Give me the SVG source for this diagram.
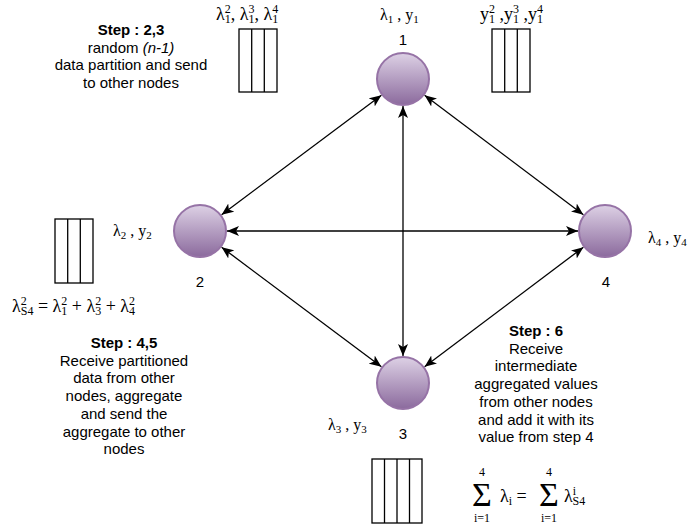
<svg xmlns="http://www.w3.org/2000/svg" width="692" height="529" viewBox="0 0 692 529">
<style>
.lbl{font-family:"Liberation Sans",Arial,sans-serif;font-size:15px;fill:#000;text-anchor:middle}
.b{font-weight:bold}
.m{font-family:"Liberation Serif","Times New Roman",serif;font-size:16px;fill:#000}
.m2{font-family:"Liberation Serif","Times New Roman",serif;font-size:18px;fill:#000}
.s{font-size:11px}
.s2{font-size:12px}
.sig{font-family:"Liberation Serif","Times New Roman",serif;font-size:34px;fill:#000;text-anchor:middle}
.lim{font-family:"Liberation Serif","Times New Roman",serif;font-size:12px;fill:#000;text-anchor:middle}
.node{fill:url(#g);stroke:#9673a6;stroke-width:2}
.conn{stroke:#000;stroke-width:1.3;fill:none;marker-start:url(#ah);marker-end:url(#ah)}
.box{fill:#fff;stroke:#000;stroke-width:1.3}
.col{stroke:#000;stroke-width:1.3}
</style>
<defs>
<linearGradient id="g" x1="0" y1="0" x2="0" y2="1">
<stop offset="0" stop-color="#ddd1e5"/>
<stop offset="1" stop-color="#8b6a9d"/>
</linearGradient>
<marker id="ah" markerUnits="userSpaceOnUse" markerWidth="12" markerHeight="10" viewBox="0 0 12 10" refX="12" refY="5" orient="auto-start-reverse">
<path d="M0,0 L12,5 L0,10 L3,5 z" fill="#000"/>
</marker>
</defs>
<rect width="692" height="529" fill="#fff"/>
<g id="connectors">
<line class="conn" x1="381.4" y1="95.2" x2="221.6" y2="214.8"/>
<line class="conn" x1="424.6" y1="95.2" x2="583.4" y2="214.8"/>
<line class="conn" x1="403" y1="106" x2="403" y2="356"/>
<line class="conn" x1="227" y1="231" x2="578" y2="231"/>
<line class="conn" x1="221.6" y1="247.2" x2="381.4" y2="366.8"/>
<line class="conn" x1="583.4" y1="247.2" x2="424.6" y2="366.8"/>
</g>
<g id="node1">
<circle class="node" cx="403" cy="79" r="26"/>
<text class="lbl" x="403" y="45">1</text>
<text class="m" x="380" y="20">λ<tspan class="s" dy="3">1</tspan><tspan dy="-3"> , y</tspan><tspan class="s" dy="3">1</tspan></text>
</g>
<g id="node2">
<circle class="node" cx="200" cy="231" r="26"/>
<text class="lbl" x="200" y="287">2</text>
<text class="m" x="113" y="236">λ<tspan class="s" dy="3">2</tspan><tspan dy="-3"> , y</tspan><tspan class="s" dy="3">2</tspan></text>
</g>
<g id="node3">
<circle class="node" cx="403" cy="383" r="26"/>
<text class="lbl" x="403" y="439">3</text>
<text class="m" x="328" y="430">λ<tspan class="s" dy="3">3</tspan><tspan dy="-3"> , y</tspan><tspan class="s" dy="3">3</tspan></text>
</g>
<g id="node4">
<circle class="node" cx="605" cy="231" r="26"/>
<text class="lbl" x="606" y="287">4</text>
<text class="m" x="648" y="243">λ<tspan class="s" dy="3">4</tspan><tspan dy="-3"> , y</tspan><tspan class="s" dy="3">4</tspan></text>
</g>
<g id="partition-lambda">
<rect class="box" x="239" y="29" width="38" height="63"/>
<line class="col" x1="251.7" y1="29" x2="251.7" y2="92"/>
<line class="col" x1="264.3" y1="29" x2="264.3" y2="92"/>
<text class="m2" x="216" y="20">λ<tspan class="s2" dy="-7">2</tspan><tspan class="s2" dx="-6" dy="10">1</tspan><tspan dy="-3">, λ</tspan><tspan class="s2" dy="-7">3</tspan><tspan class="s2" dx="-6" dy="10">1</tspan><tspan dy="-3">, λ</tspan><tspan class="s2" dy="-7">4</tspan><tspan class="s2" dx="-6" dy="10">1</tspan></text>
</g>
<g id="partition-y">
<rect class="box" x="492" y="29" width="38" height="63"/>
<line class="col" x1="504.7" y1="29" x2="504.7" y2="92"/>
<line class="col" x1="517.3" y1="29" x2="517.3" y2="92"/>
<text class="m2" x="480" y="20">y<tspan class="s2" dy="-7">2</tspan><tspan class="s2" dx="-6" dy="10">1</tspan><tspan dy="-3"> ,y</tspan><tspan class="s2" dy="-7">3</tspan><tspan class="s2" dx="-6" dy="10">1</tspan><tspan dy="-3"> ,y</tspan><tspan class="s2" dy="-7">4</tspan><tspan class="s2" dx="-6" dy="10">1</tspan></text>
</g>
<g id="partition-node2">
<rect class="box" x="55" y="219" width="38" height="64"/>
<line class="col" x1="67.7" y1="219" x2="67.7" y2="283"/>
<line class="col" x1="80.3" y1="219" x2="80.3" y2="283"/>
<text class="m2" x="12" y="312">λ<tspan class="s2" dy="-7">2</tspan><tspan class="s2" dx="-6" dy="10">S4</tspan><tspan dy="-3"> = λ</tspan><tspan class="s2" dy="-7">2</tspan><tspan class="s2" dx="-6" dy="10">1</tspan><tspan dy="-3"> + λ</tspan><tspan class="s2" dy="-7">2</tspan><tspan class="s2" dx="-6" dy="10">3</tspan><tspan dy="-3"> + λ</tspan><tspan class="s2" dy="-7">2</tspan><tspan class="s2" dx="-6" dy="10">4</tspan></text>
</g>
<g id="partition-node3">
<rect class="box" x="372" y="459" width="50" height="64"/>
<line class="col" x1="384.5" y1="459" x2="384.5" y2="523"/>
<line class="col" x1="397" y1="459" x2="397" y2="523"/>
<line class="col" x1="409.5" y1="459" x2="409.5" y2="523"/>
</g>
<g id="sum-formula">
<text class="sig" x="482" y="506">Σ</text>
<text class="lim" x="482" y="476">4</text>
<text class="lim" x="482" y="522">i=1</text>
<text class="m2" x="500" y="502">λ<tspan class="s2" dy="3">i</tspan><tspan dy="-3"> = </tspan></text>
<text class="sig" x="549" y="506">Σ</text>
<text class="lim" x="549" y="476">4</text>
<text class="lim" x="549" y="522">i=1</text>
<text class="m2" x="564" y="502">λ<tspan class="s2" dy="-7">i</tspan><tspan class="s2" dx="-3.5" dy="10">S4</tspan></text>
</g>
<g id="step23">
<text class="lbl b" x="131" y="35">Step : 2,3</text>
<text class="lbl" x="131" y="52.6">random <tspan font-style="italic">(n-1)</tspan></text>
<text class="lbl" x="131" y="70.2">data partition and send</text>
<text class="lbl" x="131" y="87.8">to other nodes</text>
</g>
<g id="step45">
<text class="lbl b" x="124" y="348">Step : 4,5</text>
<text class="lbl" x="124" y="365.7">Receive partitioned</text>
<text class="lbl" x="124" y="383.4">data from other</text>
<text class="lbl" x="124" y="401.1">nodes, aggregate</text>
<text class="lbl" x="124" y="418.8">and send the</text>
<text class="lbl" x="124" y="436.5">aggregate to other</text>
<text class="lbl" x="124" y="454.2">nodes</text>
</g>
<g id="step6">
<text class="lbl b" x="536" y="336">Step : 6</text>
<text class="lbl" x="536" y="353.7">Receive</text>
<text class="lbl" x="536" y="371.4">intermediate</text>
<text class="lbl" x="536" y="389.1">aggregated values</text>
<text class="lbl" x="536" y="406.8">from other nodes</text>
<text class="lbl" x="536" y="424.5">and add it with its</text>
<text class="lbl" x="536" y="442.2">value from step 4</text>
</g>
</svg>
